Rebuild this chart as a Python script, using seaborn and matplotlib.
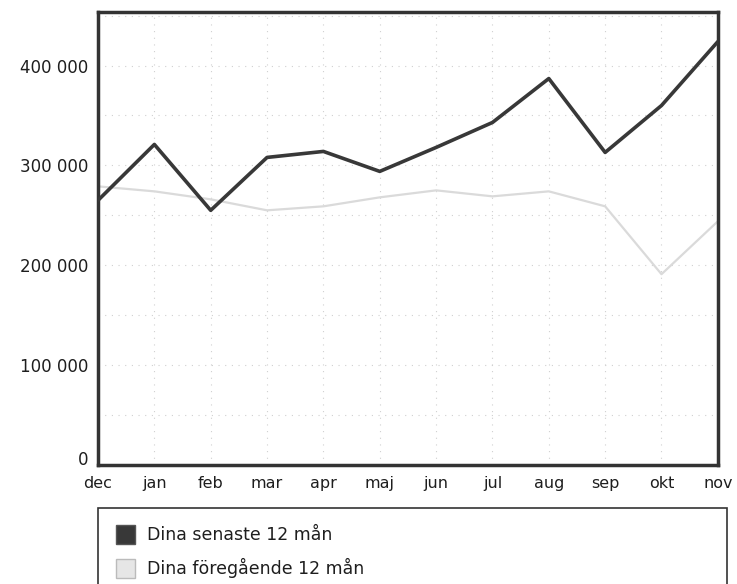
import numpy as np
import pandas as pd
import matplotlib
matplotlib.use("Agg")
import matplotlib.pyplot as plt
import matplotlib.patches as mpatches
import seaborn as sns

months = ["dec", "jan", "feb", "mar", "apr", "maj", "jun", "jul", "aug", "sep", "okt", "nov"]
senaste = [265000, 321000, 255000, 308000, 314000, 294000, 318000, 343000, 387000, 313000, 360000, 424000]
foregaende = [279000, 274000, 266000, 255000, 259000, 268000, 275000, 269000, 274000, 259000, 191000, 244000]
series_names = ["Dina senaste 12 mån", "Dina föregående 12 mån"]
y_ticks = [0, 100000, 200000, 300000, 400000]

df = pd.DataFrame({
    "month": months * 2,
    "pos": list(range(len(months))) * 2,
    "value": senaste + foregaende,
    "series": [series_names[0]] * len(months) + [series_names[1]] * len(months),
})

sns.set_style("white")
plt.rcParams["font.family"] = ["DejaVu Sans"]
plt.rcParams["text.color"] = "#1e1e1e"
plt.rcParams["xtick.color"] = "#1e1e1e"
plt.rcParams["ytick.color"] = "#1e1e1e"

dark = "#383838"
light = "#dadada"

fig = plt.figure(figsize=(7.37, 5.84), dpi=100)
ax = fig.add_axes([0.133, 0.204, 0.841, 0.776])

# faint dotted grid
for v in range(50000, 454000, 50000):
    ax.axhline(v, color="#d0d0d0", lw=0.8, ls=(0, (1, 5)), zorder=0)
for i in range(1, len(months) - 1):
    ax.axvline(i, color="#d0d0d0", lw=0.8, ls=(0, (1, 5)), zorder=0)

sns.lineplot(data=df, x="pos", y="value", hue="series", palette=[dark, light],
             ax=ax, legend=False, sort=False)
ax.lines[-2].set_linewidth(2.6)
ax.lines[-1].set_linewidth(1.6)
ax.lines[-2].set_zorder(3)

ax.set_xlim(0, len(months) - 1)
ax.set_ylim(0, 454000)
ax.set_xticks(range(len(months)))
ax.set_xticklabels(months, fontsize=11.5)
ax.set_yticks(y_ticks)
ax.set_yticklabels([f"{v:,}".replace(",", " ") for v in y_ticks], fontsize=12)
ax.tick_params(length=0, pad=7)
ax.tick_params(axis="x", pad=8)
ax.get_yticklabels()[0].set_va("baseline")
ax.set_xlabel("")
ax.set_ylabel("")
for s in ax.spines.values():
    s.set_visible(True)
    s.set_color("#333333")
    s.set_linewidth(2.5)

# legend box (cut off at bottom as in the original)
fig.patches.append(mpatches.Rectangle((98 / 737, -0.05), (727 - 98) / 737, 0.05 + 76 / 584,
                                      transform=fig.transFigure, fill=False,
                                      edgecolor="#333333", lw=1.2))
handles = [mpatches.Patch(facecolor=dark, edgecolor="#555555"),
           mpatches.Patch(facecolor="#e6e6e6", edgecolor="#bbbbbb")]
fig.legend(handles, series_names, loc="upper left", bbox_to_anchor=(104 / 737, 1 - 513 / 584),
           frameon=False, fontsize=12.5, handlelength=1.1, handleheight=1.3,
           handletextpad=0.7, labelspacing=0.8, borderpad=0.2)

fig.savefig("out.png", dpi=100)
